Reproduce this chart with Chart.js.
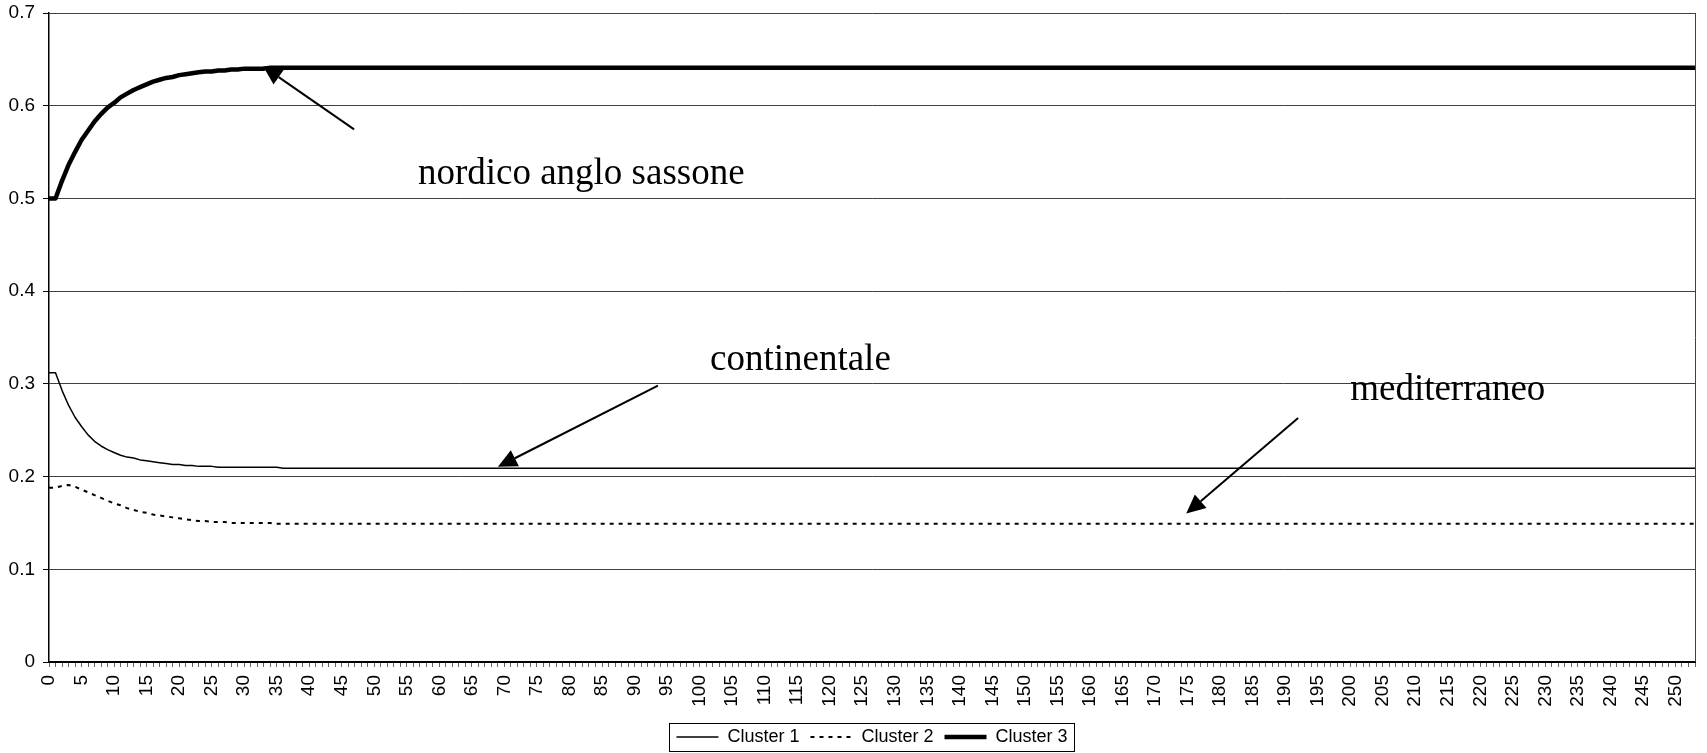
<!DOCTYPE html>
<html>
<head>
<meta charset="utf-8">
<title>Cluster</title>
<script src="https://cdn.jsdelivr.net/npm/chart.js@4/dist/chart.umd.min.js"></script>
<style>
    html, body { margin: 0; padding: 0; background: #fff; }
    #wrap { width: 1707px; height: 753px; position: relative; }
</style>
</head>
<body>
<div id="wrap"><canvas id="clusterChart"></canvas></div>
<script>
// values, one per step (0 .. 253)
const cluster1 = [
    // 0-39
    0.312, 0.312, 0.293, 0.277, 0.264, 0.254, 0.245, 0.238, 0.233, 0.229, 0.226, 0.223, 0.221, 0.220, 0.218, 0.217, 0.216, 0.215, 0.214, 0.213,
    0.213, 0.212, 0.212, 0.211, 0.211, 0.211, 0.210, 0.210, 0.210, 0.210, 0.210, 0.210, 0.210, 0.210, 0.210, 0.210, 0.209, 0.209, 0.209, 0.209,
    // 40-239
    0.209, 0.209, 0.209, 0.209, 0.209, 0.209, 0.209, 0.209, 0.209, 0.209, 0.209, 0.209, 0.209, 0.209, 0.209, 0.209, 0.209, 0.209, 0.209, 0.209,
    0.209, 0.209, 0.209, 0.209, 0.209, 0.209, 0.209, 0.209, 0.209, 0.209, 0.209, 0.209, 0.209, 0.209, 0.209, 0.209, 0.209, 0.209, 0.209, 0.209,
    0.209, 0.209, 0.209, 0.209, 0.209, 0.209, 0.209, 0.209, 0.209, 0.209, 0.209, 0.209, 0.209, 0.209, 0.209, 0.209, 0.209, 0.209, 0.209, 0.209,
    0.209, 0.209, 0.209, 0.209, 0.209, 0.209, 0.209, 0.209, 0.209, 0.209, 0.209, 0.209, 0.209, 0.209, 0.209, 0.209, 0.209, 0.209, 0.209, 0.209,
    0.209, 0.209, 0.209, 0.209, 0.209, 0.209, 0.209, 0.209, 0.209, 0.209, 0.209, 0.209, 0.209, 0.209, 0.209, 0.209, 0.209, 0.209, 0.209, 0.209,
    0.209, 0.209, 0.209, 0.209, 0.209, 0.209, 0.209, 0.209, 0.209, 0.209, 0.209, 0.209, 0.209, 0.209, 0.209, 0.209, 0.209, 0.209, 0.209, 0.209,
    0.209, 0.209, 0.209, 0.209, 0.209, 0.209, 0.209, 0.209, 0.209, 0.209, 0.209, 0.209, 0.209, 0.209, 0.209, 0.209, 0.209, 0.209, 0.209, 0.209,
    0.209, 0.209, 0.209, 0.209, 0.209, 0.209, 0.209, 0.209, 0.209, 0.209, 0.209, 0.209, 0.209, 0.209, 0.209, 0.209, 0.209, 0.209, 0.209, 0.209,
    0.209, 0.209, 0.209, 0.209, 0.209, 0.209, 0.209, 0.209, 0.209, 0.209, 0.209, 0.209, 0.209, 0.209, 0.209, 0.209, 0.209, 0.209, 0.209, 0.209,
    0.209, 0.209, 0.209, 0.209, 0.209, 0.209, 0.209, 0.209, 0.209, 0.209, 0.209, 0.209, 0.209, 0.209, 0.209, 0.209, 0.209, 0.209, 0.209, 0.209,
    // 240-253
    0.209, 0.209, 0.209, 0.209, 0.209, 0.209, 0.209, 0.209, 0.209, 0.209, 0.209, 0.209, 0.209, 0.209
];

const cluster2 = [
    // 0-39
    0.188, 0.188, 0.190, 0.191, 0.189, 0.186, 0.183, 0.180, 0.177, 0.174, 0.171, 0.169, 0.166, 0.164, 0.162, 0.161, 0.159, 0.158, 0.157, 0.156,
    0.155, 0.154, 0.153, 0.152, 0.152, 0.151, 0.151, 0.151, 0.150, 0.150, 0.150, 0.150, 0.150, 0.150, 0.150, 0.149, 0.149, 0.149, 0.149, 0.149,
    // 40-239
    0.149, 0.149, 0.149, 0.149, 0.149, 0.149, 0.149, 0.149, 0.149, 0.149, 0.149, 0.149, 0.149, 0.149, 0.149, 0.149, 0.149, 0.149, 0.149, 0.149,
    0.149, 0.149, 0.149, 0.149, 0.149, 0.149, 0.149, 0.149, 0.149, 0.149, 0.149, 0.149, 0.149, 0.149, 0.149, 0.149, 0.149, 0.149, 0.149, 0.149,
    0.149, 0.149, 0.149, 0.149, 0.149, 0.149, 0.149, 0.149, 0.149, 0.149, 0.149, 0.149, 0.149, 0.149, 0.149, 0.149, 0.149, 0.149, 0.149, 0.149,
    0.149, 0.149, 0.149, 0.149, 0.149, 0.149, 0.149, 0.149, 0.149, 0.149, 0.149, 0.149, 0.149, 0.149, 0.149, 0.149, 0.149, 0.149, 0.149, 0.149,
    0.149, 0.149, 0.149, 0.149, 0.149, 0.149, 0.149, 0.149, 0.149, 0.149, 0.149, 0.149, 0.149, 0.149, 0.149, 0.149, 0.149, 0.149, 0.149, 0.149,
    0.149, 0.149, 0.149, 0.149, 0.149, 0.149, 0.149, 0.149, 0.149, 0.149, 0.149, 0.149, 0.149, 0.149, 0.149, 0.149, 0.149, 0.149, 0.149, 0.149,
    0.149, 0.149, 0.149, 0.149, 0.149, 0.149, 0.149, 0.149, 0.149, 0.149, 0.149, 0.149, 0.149, 0.149, 0.149, 0.149, 0.149, 0.149, 0.149, 0.149,
    0.149, 0.149, 0.149, 0.149, 0.149, 0.149, 0.149, 0.149, 0.149, 0.149, 0.149, 0.149, 0.149, 0.149, 0.149, 0.149, 0.149, 0.149, 0.149, 0.149,
    0.149, 0.149, 0.149, 0.149, 0.149, 0.149, 0.149, 0.149, 0.149, 0.149, 0.149, 0.149, 0.149, 0.149, 0.149, 0.149, 0.149, 0.149, 0.149, 0.149,
    0.149, 0.149, 0.149, 0.149, 0.149, 0.149, 0.149, 0.149, 0.149, 0.149, 0.149, 0.149, 0.149, 0.149, 0.149, 0.149, 0.149, 0.149, 0.149, 0.149,
    // 240-253
    0.149, 0.149, 0.149, 0.149, 0.149, 0.149, 0.149, 0.149, 0.149, 0.149, 0.149, 0.149, 0.149, 0.149
];

const cluster3 = [
    // 0-39
    0.500, 0.500, 0.519, 0.536, 0.550, 0.563, 0.573, 0.583, 0.591, 0.598, 0.603, 0.609, 0.613, 0.617, 0.620, 0.623, 0.626, 0.628, 0.630, 0.631,
    0.633, 0.634, 0.635, 0.636, 0.637, 0.637, 0.638, 0.638, 0.639, 0.639, 0.640, 0.640, 0.640, 0.640, 0.641, 0.641, 0.641, 0.641, 0.641, 0.641,
    // 40-239
    0.641, 0.641, 0.641, 0.641, 0.641, 0.641, 0.641, 0.641, 0.641, 0.641, 0.641, 0.641, 0.641, 0.641, 0.641, 0.641, 0.641, 0.641, 0.641, 0.641,
    0.641, 0.641, 0.641, 0.641, 0.641, 0.641, 0.641, 0.641, 0.641, 0.641, 0.641, 0.641, 0.641, 0.641, 0.641, 0.641, 0.641, 0.641, 0.641, 0.641,
    0.641, 0.641, 0.641, 0.641, 0.641, 0.641, 0.641, 0.641, 0.641, 0.641, 0.641, 0.641, 0.641, 0.641, 0.641, 0.641, 0.641, 0.641, 0.641, 0.641,
    0.641, 0.641, 0.641, 0.641, 0.641, 0.641, 0.641, 0.641, 0.641, 0.641, 0.641, 0.641, 0.641, 0.641, 0.641, 0.641, 0.641, 0.641, 0.641, 0.641,
    0.641, 0.641, 0.641, 0.641, 0.641, 0.641, 0.641, 0.641, 0.641, 0.641, 0.641, 0.641, 0.641, 0.641, 0.641, 0.641, 0.641, 0.641, 0.641, 0.641,
    0.641, 0.641, 0.641, 0.641, 0.641, 0.641, 0.641, 0.641, 0.641, 0.641, 0.641, 0.641, 0.641, 0.641, 0.641, 0.641, 0.641, 0.641, 0.641, 0.641,
    0.641, 0.641, 0.641, 0.641, 0.641, 0.641, 0.641, 0.641, 0.641, 0.641, 0.641, 0.641, 0.641, 0.641, 0.641, 0.641, 0.641, 0.641, 0.641, 0.641,
    0.641, 0.641, 0.641, 0.641, 0.641, 0.641, 0.641, 0.641, 0.641, 0.641, 0.641, 0.641, 0.641, 0.641, 0.641, 0.641, 0.641, 0.641, 0.641, 0.641,
    0.641, 0.641, 0.641, 0.641, 0.641, 0.641, 0.641, 0.641, 0.641, 0.641, 0.641, 0.641, 0.641, 0.641, 0.641, 0.641, 0.641, 0.641, 0.641, 0.641,
    0.641, 0.641, 0.641, 0.641, 0.641, 0.641, 0.641, 0.641, 0.641, 0.641, 0.641, 0.641, 0.641, 0.641, 0.641, 0.641, 0.641, 0.641, 0.641, 0.641,
    // 240-253
    0.641, 0.641, 0.641, 0.641, 0.641, 0.641, 0.641, 0.641, 0.641, 0.641, 0.641, 0.641, 0.641, 0.641
];

const seriesNames = ['Cluster 1', 'Cluster 2', 'Cluster 3'];

// x categories are just the step number; a label is shown every 5 steps
const steps = cluster1.map((_, i) => String(i));
const labelEvery = 5;

// y axis
const yMin = 0;
const yMax = 0.7;
const yStep = 0.1;

// callouts, placed in data units (step, value)
const callouts = [
    { text: 'nordico anglo sassone', at: [56.7, 0.516], tail: [46.9, 0.5745], tip: [32.9, 0.6425] },
    { text: 'continentale',          at: [101.6, 0.3153], tail: [93.6, 0.298], tip: [69.0, 0.2105] },
    { text: 'mediterraneo',          at: [200.0, 0.283], tail: [192.0, 0.2632], tip: [174.8, 0.1601] }
];

const sansFont = "'Liberation Sans', Arial, sans-serif";
const serifFont = "'Liberation Serif', 'Times New Roman', serif";

// draws the right frame edge, the legend box and the arrows with their captions
const decorPlugin = {
    id: 'decor',
    afterDraw(chart) {
        const { ctx, chartArea, scales } = chart;
        const xs = scales.x, ys = scales.y;
        ctx.save();

        // right edge of the plot frame
        ctx.strokeStyle = '#404040';
        ctx.lineWidth = 1;
        ctx.beginPath();
        ctx.moveTo(Math.round(chartArea.right) + 0.5, chartArea.top);
        ctx.lineTo(Math.round(chartArea.right) + 0.5, chartArea.bottom);
        ctx.stroke();

        // box round the legend
        const boxes = chart.legend.legendHitBoxes;
        if (boxes && boxes.length) {
            const left = Math.min(...boxes.map(b => b.left)) - 7;
            const right = Math.max(...boxes.map(b => b.left + b.width)) + 7;
            const top = boxes[0].top - 5;
            const bottom = boxes[0].top + boxes[0].height + 5;
            ctx.strokeStyle = '#000';
            ctx.lineWidth = 1;
            ctx.strokeRect(Math.round(left) + 0.5, Math.round(top) + 0.5, Math.round(right - left), Math.round(bottom - top));
        }

        // arrows and captions
        ctx.fillStyle = '#000';
        ctx.strokeStyle = '#000';
        ctx.font = '37px ' + serifFont;
        ctx.textBaseline = 'alphabetic';
        ctx.textAlign = 'left';
        callouts.forEach(c => {
            const x0 = xs.getPixelForValue(c.tail[0]), y0 = ys.getPixelForValue(c.tail[1]);
            const x1 = xs.getPixelForValue(c.tip[0]), y1 = ys.getPixelForValue(c.tip[1]);
            const ang = Math.atan2(y1 - y0, x1 - x0);
            const headLen = 19, headHalf = 9;
            const bx = x1 - headLen * Math.cos(ang), by = y1 - headLen * Math.sin(ang);

            ctx.lineWidth = 2;
            ctx.beginPath();
            ctx.moveTo(x0, y0);
            ctx.lineTo(bx, by);
            ctx.stroke();

            ctx.beginPath();
            ctx.moveTo(x1, y1);
            ctx.lineTo(bx + headHalf * Math.sin(ang), by - headHalf * Math.cos(ang));
            ctx.lineTo(bx - headHalf * Math.sin(ang), by + headHalf * Math.cos(ang));
            ctx.closePath();
            ctx.fill();

            ctx.fillText(c.text, xs.getPixelForValue(c.at[0]), ys.getPixelForValue(c.at[1]));
        });
        ctx.restore();
    }
};

const whiteBackground = {
    id: 'whiteBackground',
    beforeDraw(chart) {
        const { ctx, width, height } = chart;
        ctx.save();
        ctx.fillStyle = '#fff';
        ctx.fillRect(0, 0, width, height);
        ctx.restore();
    }
};

const ctx = document.getElementById('clusterChart').getContext('2d');
const clusterChart = new Chart(ctx, {
    type: 'line',
    data: {
        labels: steps,
        datasets: [
            {
                label: seriesNames[0],
                data: cluster1,
                borderColor: '#000',
                borderWidth: 1.5
            },
            {
                label: seriesNames[1],
                data: cluster2,
                borderColor: '#000',
                borderWidth: 2,
                borderDash: [4, 5]
            },
            {
                label: seriesNames[2],
                data: cluster3,
                borderColor: '#000',
                borderWidth: 4.5
            }
        ]
    },
    options: {
        responsive: true,
        maintainAspectRatio: false,
        animation: false,
        devicePixelRatio: 1,
        layout: { padding: { top: 13, right: 12, bottom: -3, left: 0 } },
        elements: {
            point: { radius: 0, hoverRadius: 0 },
            line: { tension: 0, fill: false, borderJoinStyle: 'round' }
        },
        scales: {
            x: {
                type: 'category',
                offset: false,
                grid: {
                    display: true,
                    drawOnChartArea: false,
                    drawTicks: true,
                    tickLength: 5,
                    tickColor: '#666'
                },
                border: { display: true, color: '#000', width: 2 },
                ticks: {
                    autoSkip: false,
                    maxRotation: 90,
                    minRotation: 90,
                    padding: 8,
                    color: '#000',
                    font: { family: sansFont, size: 19 },
                    callback: (value, index) => (index % labelEvery === 0 ? steps[index] : '')
                },
                afterFit: scale => {
                    scale.height = 55;
                    scale.paddingLeft = 0;
                    scale.paddingRight = 0;
                }
            },
            y: {
                min: yMin,
                max: yMax,
                grid: {
                    color: '#404040',
                    lineWidth: 1,
                    drawTicks: true,
                    tickLength: 6,
                    tickColor: '#000'
                },
                border: { display: true, color: '#000', width: 1.5 },
                ticks: {
                    stepSize: yStep,
                    padding: 8,
                    color: '#000',
                    font: { family: sansFont, size: 19 },
                    callback: value => String(Math.round(value * 10) / 10)
                },
                afterFit: scale => {
                    scale.width = 49;
                    scale.paddingTop = 0;
                    scale.paddingBottom = 0;
                }
            }
        },
        plugins: {
            legend: {
                display: true,
                position: 'bottom',
                fullSize: false,
                align: 'center',
                labels: {
                    usePointStyle: true,
                    pointStyle: 'line',
                    pointStyleWidth: 42,
                    boxHeight: 18,
                    padding: 11,
                    color: '#000',
                    font: { family: sansFont, size: 18 },
                    generateLabels: chart => chart.data.datasets.map((ds, i) => ({
                        text: ds.label,
                        datasetIndex: i,
                        strokeStyle: ds.borderColor,
                        fillStyle: ds.borderColor,
                        lineWidth: ds.borderWidth,
                        lineDash: ds.borderDash || [],
                        pointStyle: 'line',
                        hidden: false
                    }))
                }
            },
            tooltip: { enabled: false }
        }
    },
    plugins: [whiteBackground, decorPlugin]
});
</script>
</body>
</html>
